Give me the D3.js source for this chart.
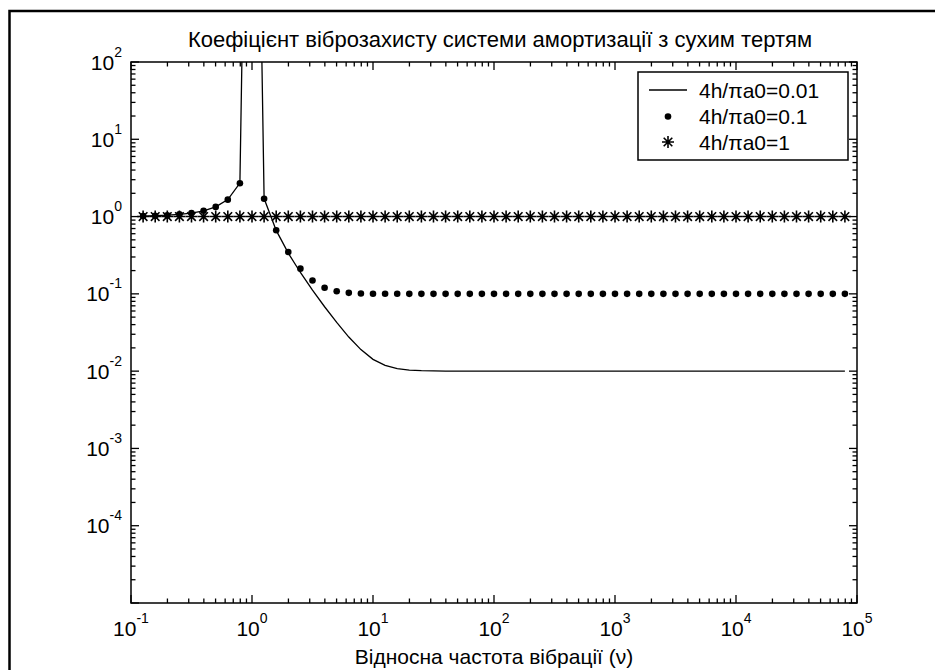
<!DOCTYPE html>
<html lang="uk">
<head>
<meta charset="UTF-8">
<title>Коефіцієнт віброзахисту</title>
<script src="https://cdn.jsdelivr.net/npm/d3@7/dist/d3.min.js"></script>
<style>
  body { margin: 0; background: #fff; }
  svg text { font-family: "Liberation Sans", Arial, sans-serif; fill: #000; }
</style>
</head>
<body>
<script>
// relative frequency (nu) samples
var nu = [
  0.1259, 0.1585, 0.1995, 0.2512, 0.3162, 0.3981, 0.5012, 0.631, 0.7943, 1,
  1.259, 1.585, 1.995, 2.512, 3.162, 3.981, 5.012, 6.31, 7.943, 10,
  12.59, 15.85, 19.95, 25.12, 31.62, 39.81, 50.12, 63.1, 79.43, 100,
  125.9, 158.5, 199.5, 251.2, 316.2, 398.1, 501.2, 631, 794.3, 1000,
  1259, 1585, 1995, 2512, 3162, 3981, 5012, 6310, 7943, 10000,
  12589, 15849, 19953, 25119, 31623, 39811, 50119, 63096, 79433
];
// 4h/pi a0 = 0.01 (solid line); huge value at the resonance
var t001 = [
  1.016, 1.026, 1.042, 1.067, 1.111, 1.188, 1.335, 1.661, 2.710, 1e10,
  1.710, 0.662, 0.336, 0.189, 0.112, 0.0681, 0.0427, 0.0276, 0.0190, 0.0142,
  0.01185, 0.01077, 0.01031, 0.01013, 0.01005, 0.01002, 0.01001, 0.01, 0.01, 0.01,
  0.01, 0.01, 0.01, 0.01, 0.01, 0.01, 0.01, 0.01, 0.01, 0.01,
  0.01, 0.01, 0.01, 0.01, 0.01, 0.01, 0.01, 0.01, 0.01, 0.01,
  0.01, 0.01, 0.01, 0.01, 0.01, 0.01, 0.01, 0.01, 0.01
];
// 4h/pi a0 = 0.1 (dots); off-scale at nu = 1
var t01 = [
  1.016, 1.026, 1.041, 1.067, 1.110, 1.187, 1.333, 1.656, 2.698, null,
  1.704, 0.666, 0.348, 0.212, 0.149, 0.120, 0.108, 0.103, 0.101, 0.1005,
  0.1002, 0.1001, 0.1, 0.1, 0.1, 0.1, 0.1, 0.1, 0.1, 0.1,
  0.1, 0.1, 0.1, 0.1, 0.1, 0.1, 0.1, 0.1, 0.1, 0.1,
  0.1, 0.1, 0.1, 0.1, 0.1, 0.1, 0.1, 0.1, 0.1, 0.1,
  0.1, 0.1, 0.1, 0.1, 0.1, 0.1, 0.1, 0.1, 0.1
];
// 4h/pi a0 = 1 (asterisks)
var t1 = [
  1, 1, 1, 1, 1, 1, 1, 1, 1, 1,
  1, 1, 1, 1, 1, 1, 1, 1, 1, 1,
  1, 1, 1, 1, 1, 1, 1, 1, 1, 1,
  1, 1, 1, 1, 1, 1, 1, 1, 1, 1,
  1, 1, 1, 1, 1, 1, 1, 1, 1, 1,
  1, 1, 1, 1, 1, 1, 1, 1, 1
];
var xTickVals = [0.1, 1, 10, 100, 1000, 10000, 100000];
var xTickExp = ["-1", "0", "1", "2", "3", "4", "5"];
var yTickVals = [100, 10, 1, 0.1, 0.01, 0.001, 0.0001];
var yTickExp = ["2", "1", "0", "-1", "-2", "-3", "-4"];
var legendNames = ["4h/\u03c0a0=0.01", "4h/\u03c0a0=0.1", "4h/\u03c0a0=1"];

var W = 935, H = 670;
var L = 131, R = 857, T = 62, B = 603;

var svg = d3.select("body").append("svg")
  .attr("width", W).attr("height", H);

// figure frame
svg.append("rect")
  .attr("x", 9.5).attr("y", 11).attr("width", 1000).attr("height", 1000)
  .attr("fill", "none").attr("stroke", "#000").attr("stroke-width", 2.5);

var x = d3.scaleLog().domain([0.1, 1e5]).range([L, R]);
var y = d3.scaleLog().domain([1e-5, 1e2]).range([B, T]);

svg.append("clipPath").attr("id", "clip")
  .append("rect").attr("x", L).attr("y", T).attr("width", R - L).attr("height", B - T);

// ticks: minor + major, pointing inwards on all four sides
function isMajor(v) { return Math.abs(Math.log10(v) - Math.round(Math.log10(v))) < 1e-6; }
var xt = x.ticks(), yt = y.ticks();
var ticks = svg.append("g").attr("stroke", "#000").attr("stroke-width", 1.3);
function len(v) { return isMajor(v) ? 8 : 4.5; }
ticks.selectAll(".xb").data(xt).enter().append("line")
  .attr("x1", function (d) { return x(d); }).attr("x2", function (d) { return x(d); })
  .attr("y1", B).attr("y2", function (d) { return B - len(d); });
ticks.selectAll(".xt").data(xt).enter().append("line")
  .attr("x1", function (d) { return x(d); }).attr("x2", function (d) { return x(d); })
  .attr("y1", T).attr("y2", function (d) { return T + len(d); });
ticks.selectAll(".yl").data(yt).enter().append("line")
  .attr("y1", function (d) { return y(d); }).attr("y2", function (d) { return y(d); })
  .attr("x1", L).attr("x2", function (d) { return L + len(d); });
ticks.selectAll(".yr").data(yt).enter().append("line")
  .attr("y1", function (d) { return y(d); }).attr("y2", function (d) { return y(d); })
  .attr("x1", R).attr("x2", function (d) { return R - len(d); });

svg.append("rect")
  .attr("x", L).attr("y", T).attr("width", R - L).attr("height", B - T)
  .attr("fill", "none").attr("stroke", "#000").attr("stroke-width", 1.5);

// tick labels 10^n
xTickVals.forEach(function (v, i) {
  var t = svg.append("text").attr("x", x(v)).attr("y", B + 33)
    .attr("text-anchor", "middle").style("font-size", "21px");
  t.append("tspan").text("10");
  t.append("tspan").attr("dy", -13).style("font-size", "14px").text(xTickExp[i]);
});
yTickVals.forEach(function (v, i) {
  var t = svg.append("text").attr("x", 122).attr("y", y(v) + 7.5)
    .attr("text-anchor", "end").style("font-size", "21px");
  t.append("tspan").text("10");
  t.append("tspan").attr("dy", -13).style("font-size", "14px").text(yTickExp[i]);
});

// title and axis label
svg.append("text").attr("x", (L + R) / 2 + 6).attr("y", 47)
  .attr("text-anchor", "middle").style("font-size", "22px")
  .text("Коефіцієнт віброзахисту системи амортизації з сухим тертям");
svg.append("text").attr("x", (L + R) / 2).attr("y", 664)
  .attr("text-anchor", "middle").style("font-size", "21px")
  .text("Відносна частота вібрації (\u03bd)");

var plot = svg.append("g").attr("clip-path", "url(#clip)");

// series 0.01: line
var pts001 = nu.map(function (n, i) { return [n, t001[i]]; });
plot.append("path").datum(pts001)
  .attr("fill", "none").attr("stroke", "#000").attr("stroke-width", 1.3)
  .attr("d", d3.line().x(function (d) { return x(d[0]); }).y(function (d) { return y(d[1]); }));

// series 0.1: dots
var pts01 = nu.map(function (n, i) { return [n, t01[i]]; })
  .filter(function (d) { return d[1] != null; });
plot.selectAll(".dot").data(pts01).enter().append("circle")
  .attr("class", "dot")
  .attr("cx", function (d) { return x(d[0]); })
  .attr("cy", function (d) { return y(d[1]); })
  .attr("r", 3.3).attr("fill", "#000");

// series 1: asterisks
function star(g, cx, cy) {
  var s = 6, d = 4.3;
  g.append("path")
    .attr("d", "M" + (cx - s) + "," + cy + "H" + (cx + s) +
      "M" + cx + "," + (cy - s) + "V" + (cy + s) +
      "M" + (cx - d) + "," + (cy - d) + "L" + (cx + d) + "," + (cy + d) +
      "M" + (cx - d) + "," + (cy + d) + "L" + (cx + d) + "," + (cy - d))
    .attr("stroke", "#000").attr("stroke-width", 1.6).attr("fill", "none");
}
nu.forEach(function (n, i) { star(plot, x(n), y(t1[i])); });

// legend
var lg = svg.append("g");
lg.append("rect").attr("x", 638).attr("y", 72).attr("width", 210).attr("height", 88)
  .attr("fill", "#fff").attr("stroke", "#000").attr("stroke-width", 1.5);
var rowY = [90, 116.5, 142];
lg.append("line").attr("x1", 649).attr("x2", 687).attr("y1", rowY[0]).attr("y2", rowY[0])
  .attr("stroke", "#000").attr("stroke-width", 1.3);
lg.append("circle").attr("cx", 668).attr("cy", rowY[1]).attr("r", 3.3).attr("fill", "#000");
star(lg, 668, rowY[2]);
legendNames.forEach(function (name, i) {
  lg.append("text").attr("x", 699).attr("y", rowY[i] + 7.5)
    .style("font-size", "21px").text(name);
});
</script>
</body>
</html>
